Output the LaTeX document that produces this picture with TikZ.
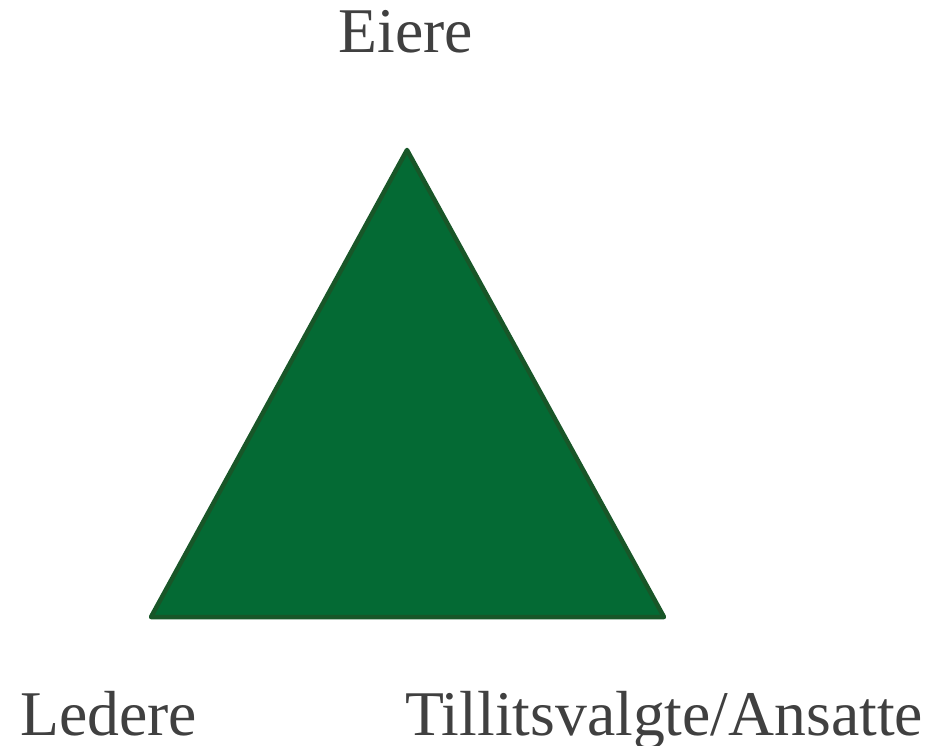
\documentclass[tikz,border=0pt]{standalone}
\usepackage{fontspec}
\setmainfont{Liberation Serif}
\definecolor{trifill}{RGB}{4,106,52}
\definecolor{triedge}{RGB}{24,86,40}
\definecolor{labelgray}{RGB}{64,64,64}
\begin{document}
\begin{tikzpicture}[x=1pt,y=-1pt,
  lbl/.style={inner sep=0pt,text=labelgray,font=\fontsize{63.7}{70}\selectfont}]
\useasboundingbox (0,0) rectangle (930,746);
\coordinate (top) at (407,150);
\coordinate (bl) at (151,617);
\coordinate (br) at (664,617);
\draw[fill=trifill,draw=triedge,line width=4.5pt,line join=round] (top) -- (br) -- (bl) -- cycle;
\node[lbl,anchor=base] (eiere) at (406,53) {Eiere};
\node[lbl,anchor=base west] (ledere) at (20,735) {Ledere};
\node[lbl,anchor=base west] (tillit) at (405,735) {Tillitsvalgte/Ansatte};
\end{tikzpicture}
\end{document}
